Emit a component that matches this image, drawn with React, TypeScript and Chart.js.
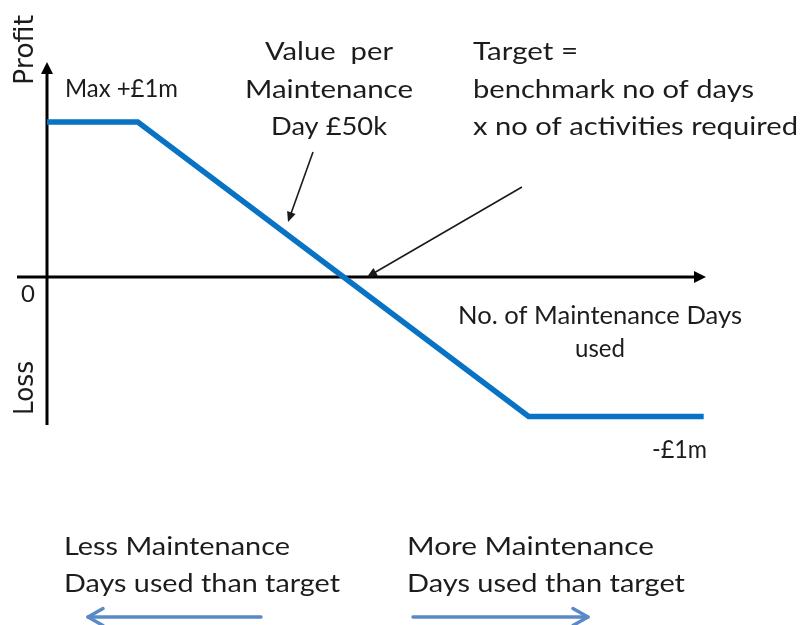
import React, { useEffect, useRef } from "react";
import { Chart, registerables } from "chart.js";

Chart.register(...registerables);

// Data: number of maintenance days used (arbitrary units) vs profit/loss (£m)
const daysUsed = [0, 13.8, 73.2, 99.8];
const profitLoss = [1, 1, -0.9, -0.9];

const yAxisTop = "Profit";
const yAxisBottom = "Loss";
const zeroLabel = "0";
const maxLabel = "Max +£1m";
const minLabel = "-£1m";
const valueNote = ["Value  per", "Maintenance", "Day £50k"];
const targetNote = ["Target =", "benchmark no of days", "x no of activities required"];
const xAxisTitle = ["No. of Maintenance Days", "used"];
const lessNote = ["Less Maintenance", "Days used than target"];
const moreNote = ["More Maintenance", "Days used than target"];

const TEXT = "#1c1c1c";
const FONT = "Lato, 'Open Sans', sans-serif";

function arrow(
  ctx: CanvasRenderingContext2D,
  x1: number, y1: number, x2: number, y2: number,
  color: string, width: number, headLen: number, headHalf: number
) {
  const ang = Math.atan2(y2 - y1, x2 - x1);
  const bx = x2 - Math.cos(ang) * headLen;
  const by = y2 - Math.sin(ang) * headLen;
  ctx.save();
  ctx.strokeStyle = color;
  ctx.fillStyle = color;
  ctx.lineWidth = width;
  ctx.lineCap = "butt";
  ctx.beginPath();
  ctx.moveTo(x1, y1);
  ctx.lineTo(bx + Math.cos(ang) * 1, by + Math.sin(ang) * 1);
  ctx.stroke();
  ctx.beginPath();
  ctx.moveTo(x2, y2);
  ctx.lineTo(bx + Math.sin(ang) * headHalf, by - Math.cos(ang) * headHalf);
  ctx.lineTo(bx - Math.sin(ang) * headHalf, by + Math.cos(ang) * headHalf);
  ctx.closePath();
  ctx.fill();
  ctx.restore();
}

function openArrow(
  ctx: CanvasRenderingContext2D,
  x1: number, y: number, x2: number,
  color: string, width: number, headLen: number, headHalf: number
) {
  const dir = Math.sign(x2 - x1);
  ctx.save();
  ctx.strokeStyle = color;
  ctx.lineWidth = width;
  ctx.lineCap = "round";
  ctx.lineJoin = "round";
  ctx.beginPath();
  ctx.moveTo(x1, y);
  ctx.lineTo(x2, y);
  ctx.stroke();
  ctx.beginPath();
  ctx.moveTo(x2 - dir * headLen, y - headHalf);
  ctx.lineTo(x2, y);
  ctx.lineTo(x2 - dir * headLen, y + headHalf);
  ctx.stroke();
  ctx.restore();
}

// draws text stretched/compressed horizontally to a given width
function text(
  ctx: CanvasRenderingContext2D, s: string, x: number, y: number,
  font: string, align: CanvasTextAlign, width?: number
) {
  ctx.save();
  ctx.font = font;
  ctx.fillStyle = TEXT;
  ctx.textAlign = align;
  ctx.textBaseline = "alphabetic";
  const m = ctx.measureText(s).width;
  const k = width ? width / m : 1;
  ctx.translate(x, y);
  ctx.scale(k, 1);
  ctx.fillText(s, 0, 0);
  ctx.restore();
}

const axesPlugin = {
  id: "diagramAxes",
  beforeDatasetsDraw(chart: any) {
    const ctx: CanvasRenderingContext2D = chart.ctx;
    const xs = chart.scales.x;
    const ys = chart.scales.y;
    const x0 = xs.getPixelForValue(0);
    const y0 = ys.getPixelForValue(0);
    const top = chart.chartArea.top;
    const bottom = chart.chartArea.bottom;
    ctx.save();
    ctx.strokeStyle = "#000";
    ctx.lineWidth = 3;
    ctx.beginPath();
    ctx.moveTo(x0, bottom);
    ctx.lineTo(x0, top + 10);
    ctx.stroke();
    ctx.beginPath();
    ctx.moveTo(x0 - 30, y0);
    ctx.lineTo(chart.chartArea.right - 9, y0);
    ctx.stroke();
    ctx.fillStyle = "#000";
    ctx.beginPath();
    ctx.moveTo(x0, top);
    ctx.lineTo(x0 - 6, top + 12);
    ctx.lineTo(x0 + 6, top + 12);
    ctx.closePath();
    ctx.fill();
    ctx.beginPath();
    ctx.moveTo(chart.chartArea.right + 1, y0);
    ctx.lineTo(chart.chartArea.right - 11, y0 - 6);
    ctx.lineTo(chart.chartArea.right - 11, y0 + 6);
    ctx.closePath();
    ctx.fill();
    ctx.restore();
  },
  afterDatasetsDraw(chart: any) {
    const ctx: CanvasRenderingContext2D = chart.ctx;
    const f = `25px ${FONT}`;

    // rotated axis words
    ctx.save();
    ctx.font = "27px 'DejaVu Sans', sans-serif";
    ctx.fillStyle = TEXT;
    ctx.textBaseline = "alphabetic";
    ctx.textAlign = "center";
    ctx.translate(33, 50);
    ctx.rotate(-Math.PI / 2);
    ctx.fillText(yAxisTop, 0, 0, 70);
    ctx.restore();
    ctx.save();
    ctx.font = "27px 'DejaVu Sans', sans-serif";
    ctx.fillStyle = TEXT;
    ctx.textAlign = "center";
    ctx.translate(33, 388);
    ctx.rotate(-Math.PI / 2);
    ctx.fillText(yAxisBottom, 0, 0, 54);
    ctx.restore();

    text(ctx, zeroLabel, 28, 302, `24px ${FONT}`, "center");
    text(ctx, maxLabel, 65, 97, f, "left", 113);
    text(ctx, minLabel, 652, 458, f, "left", 55);

    const vw = [128, 168, 116];
    valueNote.forEach((s, i) => text(ctx, s, 329, 60 + i * 37.5, f, "center", vw[i]));
    const tw = [105, 281, 325];
    targetNote.forEach((s, i) => text(ctx, s, 473, 60 + i * 37.5, f, "left", tw[i]));

    text(ctx, xAxisTitle[0], 600, 324, f, "center", 284);
    text(ctx, xAxisTitle[1], 600, 357, f, "center", 50);

    text(ctx, lessNote[0], 64, 555, f, "left", 226);
    text(ctx, lessNote[1], 64, 592, f, "left", 276);
    text(ctx, moreNote[0], 407, 555, f, "left", 247);
    text(ctx, moreNote[1], 407, 592, f, "left", 278);

    // annotation arrows
    arrow(ctx, 313, 152, 288, 222, "#1a1a1a", 1.6, 10, 4.5);
    arrow(ctx, 522, 187, 367, 277, "#1a1a1a", 1.6, 10, 4.5);

    // direction arrows
    openArrow(ctx, 261, 617, 88, "#5a8ac6", 3.4, 15, 8.5);
    openArrow(ctx, 413, 617, 588, "#5a8ac6", 3.4, 15, 8.5);
  },
};

export default function App() {
  const ref = useRef<HTMLCanvasElement | null>(null);
  useEffect(() => {
    if (!ref.current) return;
    const chart = new Chart(ref.current, {
      type: "line",
      data: {
        datasets: [
          {
            data: daysUsed.map((d, i) => ({ x: d, y: profitLoss[i] })),
            borderColor: "#0872c4",
            borderWidth: 5.5,
            borderJoinStyle: "miter",
            borderCapStyle: "butt",
            pointRadius: 0,
            fill: false,
            tension: 0,
          },
        ],
      },
      options: {
        animation: false,
        responsive: false,
        devicePixelRatio: 1,
        layout: { padding: { left: 47, right: 97, top: 62, bottom: 200 } },
        scales: {
          x: { type: "linear", min: 0, max: 100, display: false },
          y: { type: "linear", min: -0.955, max: 1.387, display: false },
        },
        plugins: { legend: { display: false }, tooltip: { enabled: false } },
      },
      plugins: [axesPlugin],
    });
    return () => chart.destroy();
  }, []);
  return (
    <div style={{ position: "fixed", left: 0, top: 0, width: 802, height: 625, background: "#fff" }}>
      <canvas ref={ref} width={802} height={625} style={{ display: "block" }} />
    </div>
  );
}
